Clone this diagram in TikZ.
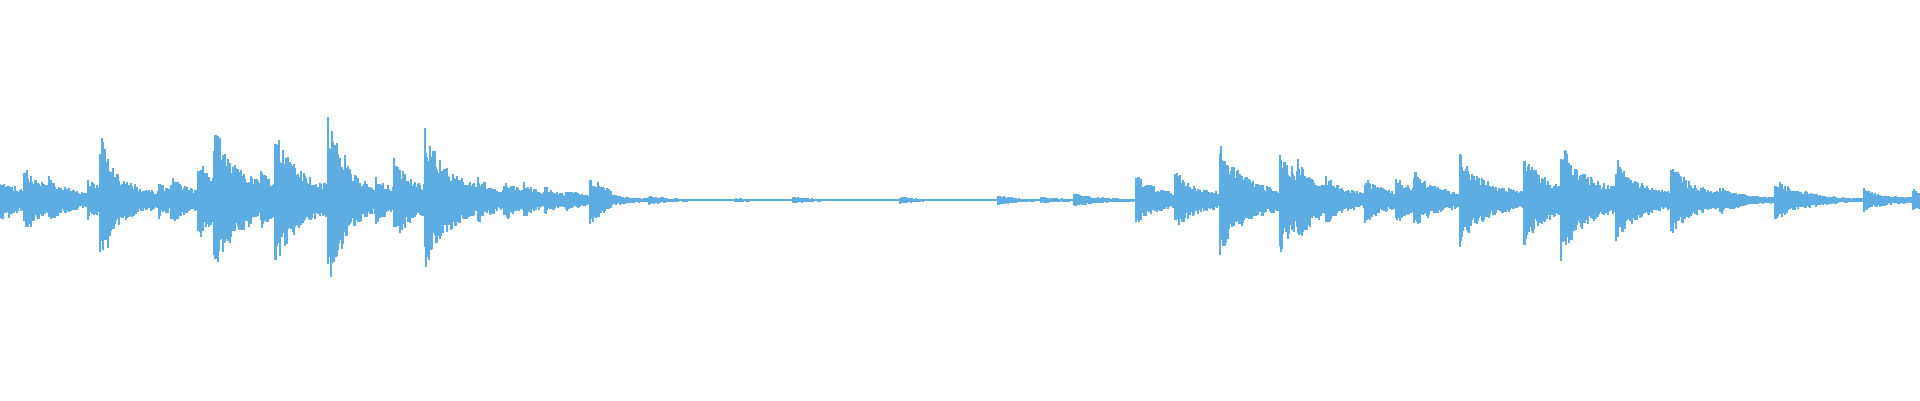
\documentclass[tikz,border=0pt]{standalone}
\usepackage{tikz}

\tikzset{
    wave/.style={draw=wavecol, line width=0.6pt},
}
\definecolor{wavecol}{HTML}{5DADE2}

\begin{document}
\begin{tikzpicture}[x=0.012245cm, y=0.012245cm]
        \useasboundingbox (0,0) rectangle (1568,327);
        \pgfmathsetseed{4242}
        % onset / peak height / end of segment
        \foreach \t/\a/\e in {
            0/18/6, 6/16/20, 20/28/40, 40/20/60, 60/10/72, 72/18/82,
            82/54/90, 90/30/130, 130/15/140, 140/20/162, 162/35/175,
            175/65/213, 213/25/225, 225/58/268, 268/71/283, 283/30/307,
            307/20/322, 322/35/347, 347/60/390, 390/20/412, 412/18/428,
            428/15/445, 445/12/462, 462/10/482, 482/20/500, 500/5/530,
            530/4/600, 600/2/648, 648/3/735, 735/3/815, 815/4/850,
            850/3/877, 877/6/928, 928/22/960, 960/25/996, 996/48/1045,
            1045/45/1060, 1060/35/1083, 1083/20/1115, 1115/20/1140,
            1140/20/1155, 1155/25/1192, 1192/40/1245, 1245/40/1275,
            1275/50/1320, 1320/35/1365, 1365/30/1405, 1405/12/1450,
            1450/18/1475, 1475/8/1522, 1522/10/1562, 1562/10/1568
            }{
            \pgfmathtruncatemacro\n{\e-\t-1}
            \foreach \d in {0,...,\n}{
                \pgfmathsetmacro\up{max(0.8,\a*(0.5*exp(-\d/12)+0.5*exp(-\d/50))*(0.6+0.4*rnd))}
                \pgfmathsetmacro\dn{max(0.8,\a*(0.5*exp(-\d/12)+0.5*exp(-\d/50))*(0.6+0.4*rnd))}
                \draw[wave] ({\t+\d},{163.5+\up}) -- ({\t+\d},{163.5-\dn});
            }
        }
    \end{tikzpicture}
\end{document}
